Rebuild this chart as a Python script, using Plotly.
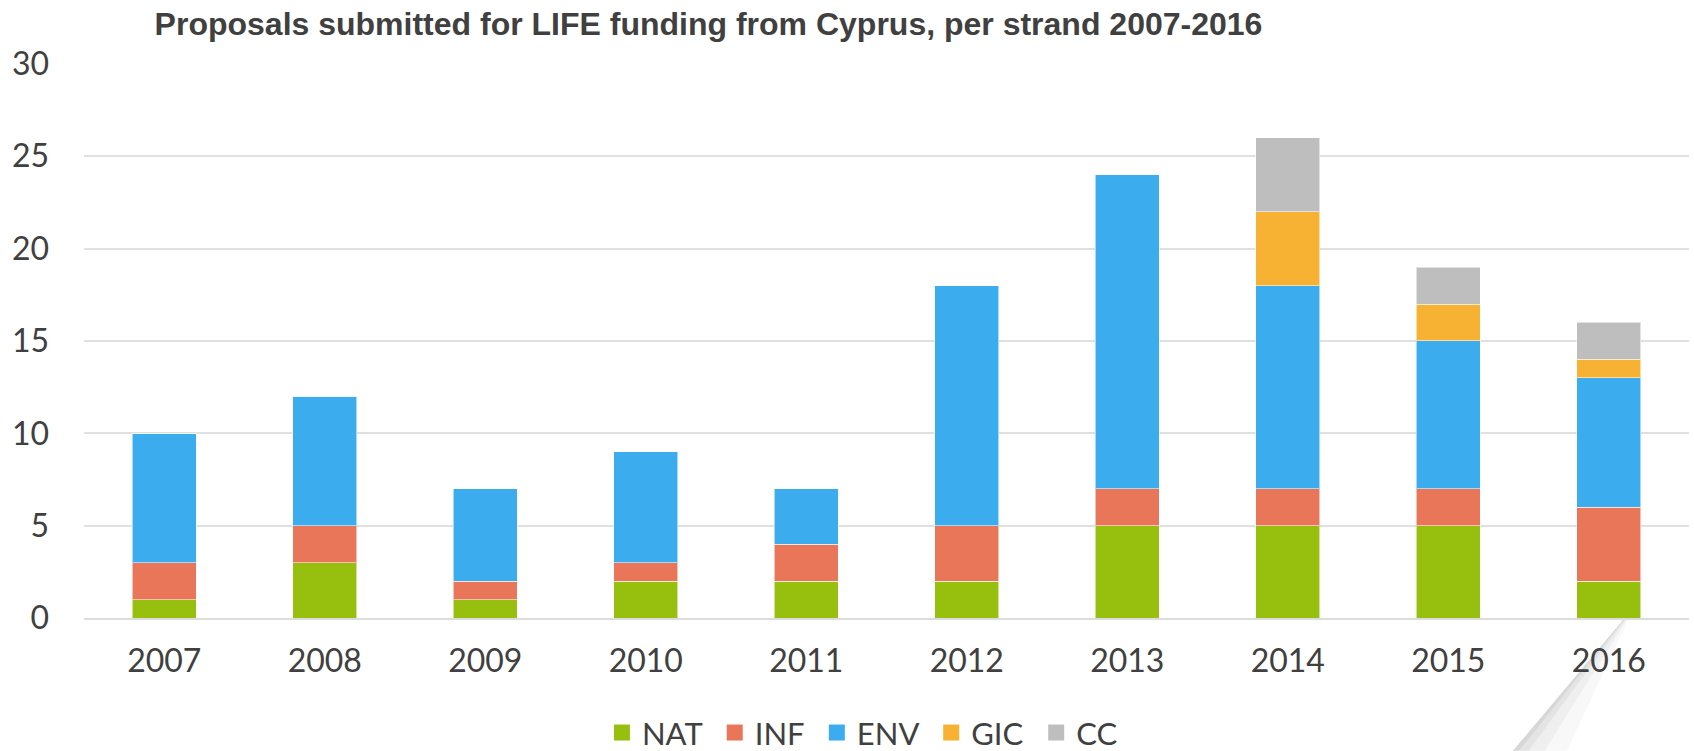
import plotly.graph_objects as go

years = ["2007", "2008", "2009", "2010", "2011", "2012", "2013", "2014", "2015", "2016"]
nat = [1, 3, 1, 2, 2, 2, 5, 5, 5, 2]
inf = [2, 2, 1, 1, 2, 3, 2, 2, 2, 4]
env = [7, 7, 5, 6, 3, 13, 17, 11, 8, 7]
gic = [0, 0, 0, 0, 0, 0, 0, 4, 2, 1]
cc = [0, 0, 0, 0, 0, 0, 0, 4, 2, 2]

series = [
    ("NAT", nat, "#97C00E"),
    ("INF", inf, "#EA7659"),
    ("ENV", env, "#3BADEF"),
    ("GIC", gic, "#F7B133"),
    ("CC", cc, "#BEBEBE"),
]

TEXT = "#404040"
NBSP = "\u00a0"
fig = go.Figure()
for name, vals, col in series:
    fig.add_trace(go.Bar(
        x=years, y=vals, name=name, showlegend=False,
        marker=dict(color=col, line=dict(color="rgba(255,255,255,0.55)", width=1)),
    ))
# legend proxies
for i, (name, vals, col) in enumerate(series):
    label = name + (NBSP if i < len(series) - 1 else "")
    fig.add_trace(go.Scatter(
        x=[None], y=[None], mode="markers", name=label,
        marker=dict(symbol="square", size=16, color=col),
    ))

# page-curl shadow decoration (bottom right), layered for a soft gradient
def wedge(x_top_r, x_bot_r, alpha):
    fig.add_shape(type="path", xref="paper", yref="paper", layer="below",
                  path=f"M 0.9589 -0.0036 L {x_top_r} -0.0036 L {x_bot_r} -0.2394 L 0.8903 -0.2394 Z",
                  fillcolor=f"rgba(150,150,150,{alpha})", line=dict(width=0))

wedge(0.9620, 0.9240, 0.07)
wedge(0.9610, 0.9100, 0.09)
wedge(0.9600, 0.9000, 0.12)
wedge(0.9594, 0.8940, 0.16)

fig.update_layout(
    barmode="stack",
    bargap=0.6,
    width=1694, height=751,
    margin=dict(l=84, r=5, t=62.5, b=133, autoexpand=False),
    paper_bgcolor="white", plot_bgcolor="white",
    font=dict(family="Lato, Calibri, sans-serif", size=32, color=TEXT),
    title=dict(
        text="<b>Proposals submitted for LIFE funding from Cyprus, per strand 2007-2016</b>",
        font=dict(family="Liberation Sans, Arial, sans-serif", size=32, color=TEXT),
        xref="paper", x=0.044, xanchor="left",
        yref="container", y=0.968, yanchor="middle",
    ),
    xaxis=dict(
        showgrid=False, showline=True, linecolor="#dcdcdc", linewidth=2,
        ticks="", ticklabelstandoff=14,
        tickfont=dict(family="Lato, Calibri, sans-serif", size=32, color=TEXT),
    ),
    yaxis=dict(
        range=[0, 30.05], tickvals=[0, 5, 10, 15, 20, 25, 30],
        showgrid=True, gridcolor="#e0e0e0", gridwidth=2,
        zeroline=False, showline=False, ticks="", ticklabelstandoff=34,
        tickfont=dict(family="Lato, Calibri, sans-serif", size=32, color=TEXT),
    ),
    legend=dict(
        orientation="h", xref="paper", yref="paper", traceorder="normal",
        x=0.485, xanchor="center", y=-0.207, yanchor="middle",
        font=dict(family="Lato, Calibri, sans-serif", size=31, color=TEXT),
        itemwidth=30, tracegroupgap=0,
    ),
)

fig.write_html("out.html", config={"displayModeBar": False},
               post_script="document.body.style.margin='0';")
